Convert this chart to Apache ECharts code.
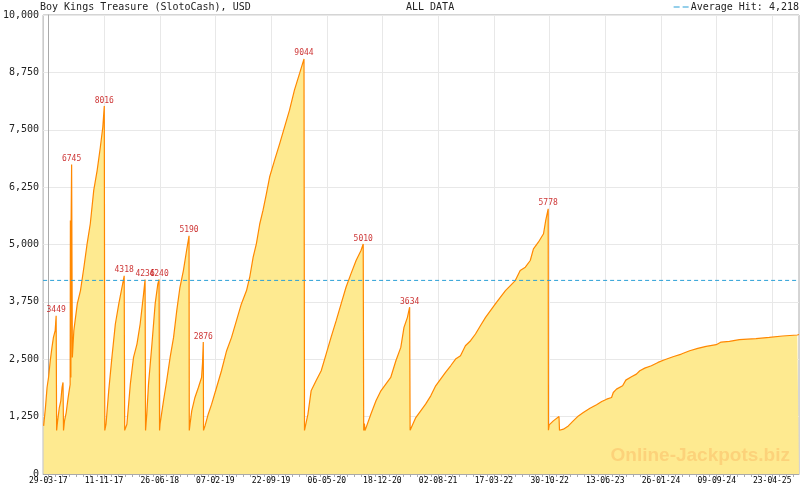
<!DOCTYPE html>
<html>
<head>
<meta charset="utf-8">
<script src="https://cdn.jsdelivr.net/npm/echarts@6.0.0/dist/echarts.min.js"></script>
<style>
  html, body { margin: 0; padding: 0; background: #fff; }
  #main { width: 800px; height: 490px; }
</style>
</head>
<body>
<div id="main"></div>
<script>
// x axis tick labels (dd-mm-yy); days are counted from the first one
var tickLabels = ['29-03-17', '11-11-17', '26-06-18', '07-02-19', '22-09-19', '06-05-20', '18-12-20',
    '02-08-21', '17-03-22', '30-10-22', '13-06-23', '26-01-24', '09-09-24', '23-04-25'];

// jackpot amount per day (one line per cycle)
var days = [
    -19, -12, -5, 1, 8, 15, 21, 28, 32, 34,
    38, 45, 51, 56, 60, 62,
    66, 73, 80, 86, 89, 90, 92, 93, 95, 98, 104, 118, 131, 145, 158, 171, 185, 199, 212, 222, 228, 230,
    235, 246, 259, 273, 287, 300, 309, 311,
    320, 334, 347, 361, 374, 388, 394, 396,
    401, 408, 422, 435, 446, 451, 453,
    455, 469, 482, 496, 510, 523, 536, 550, 563, 573, 574,
    577, 584, 597, 611, 624, 628, 631, 632,
    638, 651, 665, 685, 705, 726, 746, 766, 786, 807, 820, 834, 847, 861, 874, 888, 901, 921, 942, 962, 982, 1002, 1023, 1041, 1043,
    1046, 1057, 1070, 1090, 1111, 1131, 1151, 1172, 1192, 1212, 1232, 1253, 1273, 1282, 1284,
    1287, 1289, 1293, 1313, 1334, 1354, 1374, 1394, 1415, 1435, 1448, 1462, 1471, 1473,
    1476, 1496, 1516, 1536, 1557, 1577, 1597, 1617, 1638, 1658, 1678, 1698, 1719, 1739, 1759, 1780, 1800, 1820, 1840, 1861, 1881, 1901, 1921, 1942, 1962, 1975, 1995, 2016, 2025, 2035, 2036,
    2039, 2056, 2079, 2081,
    2097, 2117, 2137, 2158, 2178, 2205, 2232, 2253, 2273, 2293, 2300, 2313, 2338, 2351, 2374, 2394, 2408, 2428, 2455, 2482, 2509, 2543, 2577, 2611, 2644, 2678, 2719, 2739, 2773, 2813, 2881, 2935, 2989, 3049, 3056
];
var values = [
    1048, 1419, 1885, 2103, 2467, 2758, 2976, 3122, 3449, 950,
    1157, 1448, 1594, 1885, 1994, 950,
    1157, 1339, 1630, 1849, 1950, 5524, 2100, 5524, 6745, 2540, 3122, 3705, 3996, 4505, 5015, 5452, 6179, 6616, 7125, 7561, 8016, 950,
    1085, 1812, 2540, 3268, 3705, 4068, 4318, 950,
    1085, 1958, 2540, 2831, 3268, 3923, 4236, 950,
    1303, 1958, 2831, 3705, 4141, 4240, 950,
    1085, 1594, 2031, 2540, 2976, 3559, 4068, 4432, 4869, 5190, 950,
    1085, 1376, 1667, 1885, 2103, 2430, 2876, 950,
    1048, 1303, 1522, 1885, 2249, 2686, 2976, 3341, 3705, 3996, 4287, 4723, 5015, 5452, 5742, 6107, 6470, 6834, 7198, 7561, 7926, 8362, 8727, 9044, 950,
    976, 1303, 1812, 2031, 2249, 2613, 2976, 3341, 3705, 4068, 4360, 4651, 4869, 5010, 950,
    1100, 950, 1000, 1303, 1594, 1812, 1958, 2103, 2467, 2758, 3195, 3413, 3634, 954,
    975, 1230, 1376, 1522, 1703, 1921, 2067, 2212, 2358, 2504, 2576, 2795, 2904, 3050, 3231, 3413, 3559, 3705, 3850, 3996, 4105, 4214, 4432, 4505, 4651, 4906, 5050, 5234, 5524, 5778, 954,
    1070, 1157, 1251, 954,
    976, 1048, 1157, 1266, 1339, 1434, 1507, 1579, 1630, 1667, 1776, 1849, 1921, 2045, 2118, 2176, 2249, 2307, 2358, 2431, 2489, 2555, 2613, 2686, 2737, 2780, 2817, 2875, 2889, 2926, 2948, 2976, 3006, 3028, 3040
];

// labelled hits
var hits = [3449, 6745, 8016, 4318, 4236, 4240, 5190, 2876, 9044, 5010, 3634, 5778];
var averageHit = 4218;

// visible day range
var firstDay = -21;
var lastDay = 3056;

// y axis ticks
var yMax = 10000;
var yStep = 1250;

var mono = 'DejaVu Sans Mono';
var DAY = 86400000;

var toMs = function (s) {
    var p = s.split('-');
    return Date.UTC(2000 + Number(p[2]), Number(p[1]) - 1, Number(p[0]));
};
var startMs = toMs(tickLabels[0]);
var labelDays = tickLabels.map(function (s) { return Math.round((toMs(s) - startMs) / DAY); });

// 8 minor steps between labels
var minorDays = [];
for (var k = 0; k < labelDays.length; k++) {
    var a = labelDays[k];
    var b = k + 1 < labelDays.length ? labelDays[k + 1] : a + (a - labelDays[k - 1]);
    for (var j = 0; j < 8; j++) {
        var d = a + (b - a) * j / 8;
        if (d <= lastDay) minorDays.push(d);
    }
}

var pad = function (n) { return n < 10 ? '0' + n : '' + n; };
var dayLabel = function (d) {
    var t = new Date(startMs + Math.round(d) * DAY);
    return pad(t.getUTCDate()) + '-' + pad(t.getUTCMonth() + 1) + '-' + pad(t.getUTCFullYear() % 100);
};
var comma = function (v) {
    return String(v).replace(/\B(?=(\d{3})+(?!\d))/g, ',');
};

var lineData = [];
var peakData = [];
for (var i = 0; i < days.length; i++) {
    lineData.push([days[i], values[i]]);
    if (hits.indexOf(values[i]) >= 0) peakData.push([days[i], values[i]]);
}

var avgName = 'Average Hit: ' + comma(averageHit);

var chartDom = document.getElementById('main');
var myChart = echarts.init(chartDom);
var option = {
    animation: false,
    title: [
        {
            text: 'Boy Kings Treasure (SlotoCash), USD',
            left: 40, top: 2, padding: 0,
            textStyle: { fontFamily: mono, fontSize: 10, fontWeight: 'normal', color: '#222' }
        },
        {
            text: 'ALL DATA',
            left: 406, top: 2, padding: 0,
            textStyle: { fontFamily: mono, fontSize: 10, fontWeight: 'normal', color: '#222' }
        }
    ],
    legend: {
        right: 1, top: 2, padding: 0,
        itemWidth: 15, itemHeight: 2,
        data: [{ name: avgName, icon: 'path://M0,0 L6,0 L6,1 L0,1 Z M9,0 L15,0 L15,1 L9,1 Z' }],
        textStyle: { fontFamily: mono, fontSize: 10, color: '#222', padding: [0, 0, 0, -3] }
    },
    grid: {
        left: 40, right: 1, top: 15, bottom: 16,
        show: true, borderColor: '#aaa', borderWidth: 1
    },
    xAxis: [
        {
            type: 'value', min: firstDay, max: lastDay,
            axisLine: { lineStyle: { color: '#aaa' } },
            axisTick: { customValues: labelDays, length: 5, lineStyle: { color: '#aaa' } },
            axisLabel: {
                customValues: labelDays, formatter: dayLabel, margin: 3,
                fontFamily: mono, fontSize: 8, color: '#000'
            },
            splitLine: { show: true, lineStyle: { color: '#e8e8e8' } }
        },
        {
            type: 'value', min: firstDay, max: lastDay, position: 'bottom',
            axisLine: { show: false },
            axisTick: { customValues: minorDays, length: 3, lineStyle: { color: '#aaa' } },
            axisLabel: { show: false },
            splitLine: { show: false }
        }
    ],
    yAxis: {
        type: 'value', min: 0, max: yMax, interval: yStep,
        axisLine: { show: true, lineStyle: { color: '#aaa' } },
        axisTick: { show: false },
        axisLabel: { formatter: comma, margin: 4, fontFamily: mono, fontSize: 10, color: '#222' },
        splitLine: { lineStyle: { color: '#e8e8e8' } }
    },
    graphic: [
        {
            type: 'text', right: 10, top: 446, z: 100,
            style: {
                text: 'Online-Jackpots.biz',
                font: 'bold 19px "Liberation Sans"',
                fill: '#fcd27a'
            }
        }
    ],
    series: [
        {
            type: 'line',
            name: 'jackpot',
            data: lineData,
            showSymbol: false,
            symbol: 'none',
            lineStyle: { color: '#ff8800', width: 1.2 },
            areaStyle: { color: '#feea90', opacity: 1 },
            z: 2
        },
        {
            type: 'scatter',
            name: 'hits',
            data: peakData,
            symbolSize: 1,
            itemStyle: { color: 'rgba(0,0,0,0)' },
            label: {
                show: true, position: 'top', distance: 1,
                fontFamily: mono, fontSize: 8, color: '#c00000',
                formatter: function (p) { return p.value[1]; }
            },
            z: 5
        },
        {
            type: 'line',
            name: avgName,
            data: [[firstDay, averageHit], [lastDay, averageHit]],
            symbol: 'none',
            itemStyle: { color: '#2a9fd6' },
            lineStyle: { color: '#2a9fd6', width: 1, type: [4, 3] },
            z: 4
        }
    ]
};
option && myChart.setOption(option);
</script>
</body>
</html>
